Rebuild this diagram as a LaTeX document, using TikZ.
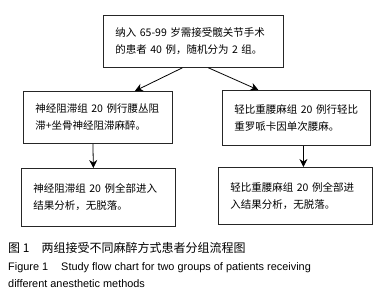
\documentclass[tikz,border=0pt]{standalone}
\usepackage{fontspec}
\setmainfont{Liberation Sans}
\newfontfamily\zhfont{Noto Sans CJK SC}
\usetikzlibrary{arrows.meta,positioning}
\tikzset{
  flowbox/.style={draw=black!85, line width=0.8pt, rectangle, anchor=north west,
    align=left, inner xsep=12pt, inner ysep=0pt,
    font=\zhfont\fontsize{10.5}{17}\selectfont},
  flowarrow/.style={-{Stealth[length=8pt,width=8pt]}, line width=0.8pt, black}
}

\begin{document}
\begin{tikzpicture}[x=1pt, y=-1pt]
  \useasboundingbox (0,0) rectangle (386,300);
  % boxes
  \node[flowbox, text width=156pt, minimum height=52pt] (intake) at (103,15)
    {纳入 65-99 岁需接受髋关节手术\\的患者 40 例，随机分为 2 组。};
  \node[flowbox, text width=125pt, minimum height=52pt] (nerve) at (23,91)
    {神经阻滞组 20 例行腰丛阻\\滞+坐骨神经阻滞麻醉。};
  \node[flowbox, text width=124pt, minimum height=55pt] (spinal) at (222,90)
    {轻比重腰麻组 20 例行轻比\\重罗哌卡因单次腰麻。};
  \node[flowbox, text width=130pt, minimum height=58pt] (nerveout) at (21,168)
    {神经阻滞组 20 例全部进入\\结果分析，无脱落。};
  \node[flowbox, text width=130pt, minimum height=57pt] (spinalout) at (218,167)
    {轻比重腰麻组 20 例全部进\\入结果分析，无脱落。};
  % arrows
  \draw[flowarrow] ([xshift=-11pt]intake.south) -- ([xshift=37pt]nerve.north);
  \draw[flowarrow] ([xshift=15pt]intake.south) -- ([xshift=-38pt]spinal.north);
  \draw[flowarrow] ([xshift=-5pt]nerve.south) -- ([xshift=-5pt]nerveout.north);
  \draw[flowarrow] ([xshift=7pt]spinal.south) -- ([xshift=8pt]spinalout.north);
  % caption
  \node[anchor=base west, inner sep=0pt, font=\zhfont\fontsize{12}{14}\selectfont] (capzh) at (8,252)
    {图 1\hspace{1em}两组接受不同麻醉方式患者分组流程图};
  \node[anchor=north west, inner sep=0pt, align=left, font=\fontsize{10.9}{17}\selectfont] (capen) at (8,262)
    {Figure 1\hspace{1.2em}Study flow chart for two groups of patients receiving\\different anesthetic methods};
\end{tikzpicture}
\end{document}
